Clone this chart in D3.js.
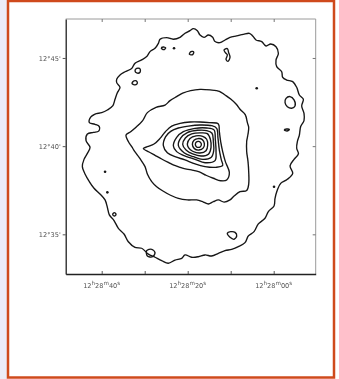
<!DOCTYPE html>
<html>
<head>
<meta charset="utf-8">
<script src="https://cdn.jsdelivr.net/npm/d3@7"></script>
<style>
  html, body { margin: 0; padding: 0; background: #ffffff; }
  svg { display: block; }
</style>
</head>
<body>
<svg id="chart" width="339" height="379"></svg>
<script>
// Isophote map of the galaxy: every contour is a closed ring of
// [RA seconds after 12h28m, Dec arcminutes after 12°] points.

const raTicks = [40, 30, 20, 10, 0];
const raLabels = { 40: "40", 20: "20", 0: "00" };
const decTicks = [35, 40, 45];
const decLabels = ["12°35'", "12°40'", "12°45'"];

// Outermost isophote
const isoOuter = [
  [36.51,43.79],[35.74,44.04],[34.57,44.22],[33.02,44.41],[32.25,44.70],[30.70,44.89],
  [29.53,45.08],[28.76,45.36],[27.60,45.55],[26.82,45.83],[26.43,46.06],[24.88,46.15],
  [23.33,46.06],[21.78,46.17],[20.62,46.40],[19.46,46.55],[18.68,46.66],[17.75,46.55],
  [17.13,46.30],[16.20,46.17],[15.19,46.30],[14.19,46.17],[13.64,45.93],[12.48,45.87],
  [11.32,46.02],[10.16,46.17],[8.60,46.25],[7.05,46.34],[5.66,46.40],[4.88,46.25],
  [4.11,46.02],[2.79,45.93],[1.78,45.68],[0.70,45.79],[-0.54,45.64],[-1.09,45.26],
  [-0.54,44.89],[-0.70,44.51],[-1.86,44.22],[-2.09,43.90],[-3.02,43.75],[-4.42,43.66],
  [-5.35,43.34],[-5.97,42.90],[-6.90,42.66],[-6.51,42.28],[-7.05,41.86],[-7.05,41.45],
  [-6.28,41.11],[-5.97,40.63],[-5.50,40.26],[-5.35,39.88],[-5.74,39.56],[-4.73,39.25],
  [-3.80,38.88],[-4.42,38.46],[-3.18,38.12],[-1.63,37.89],[-0.85,37.51],[-0.31,37.04],
  [-0.08,36.61],[1.24,36.29],[2.02,35.91],[3.57,35.59],[4.57,35.15],[5.89,34.91],
  [6.67,34.53],[8.22,34.30],[9.77,34.15],[11.32,34.07],[12.87,33.92],[14.42,33.77],
  [15.97,33.83],[17.52,33.73],[19.07,33.70],[20.62,33.83],[21.40,33.64],[22.95,33.54],
  [24.50,33.36],[26.05,33.51],[27.60,33.70],[29.15,33.88],[30.70,34.21],[32.25,34.26],
  [33.80,34.58],[34.81,35.02],[36.12,35.34],[37.13,35.78],[38.22,36.10],[38.68,36.53],
  [39.22,36.95],[40.39,37.29],[41.78,37.61],[42.87,37.99],[43.88,38.42],[44.50,38.84],
  [44.11,39.25],[43.33,39.59],[42.71,39.93],[43.64,40.31],[43.33,40.69],
  [41.94,40.78],[40.70,40.85],[40.55,41.11],[41.55,41.24],
  [42.87,41.33],[42.56,41.64],[41.55,41.82],[40.00,41.90],[38.68,42.05],[37.44,42.28],
  [36.90,42.66],[36.36,43.03],[35.74,43.34],[36.51,43.60]
];

// Second isophote
const isoSecond = [
  [34.34,40.63],[33.26,40.82],[32.02,41.07],[30.47,41.45],[29.38,41.90],[27.36,42.20],
  [25.27,42.33],[24.11,42.58],[22.56,42.81],[21.16,43.00],[19.30,43.15],[17.13,43.22],
  [14.81,43.19],[12.64,43.11],[11.32,42.90],[10.00,42.67],[8.76,42.39],[7.67,42.05],
  [6.59,41.77],[6.12,41.33],[5.81,41.07],[5.97,40.69],[6.28,40.26],[6.28,39.69],
  [5.97,39.12],[5.81,38.55],[5.81,37.85],[6.28,37.48],[7.83,37.42],[9.22,37.17],
  [10.16,36.95],[11.55,36.83],[12.87,36.95],[14.03,36.85],[15.19,36.72],[16.36,36.83],
  [17.91,36.95],[20.08,36.95],[22.17,37.04],[24.11,37.23],[25.66,37.44],[27.21,37.70],
  [28.37,37.99],[29.38,38.42],[29.92,38.84],[31.09,39.29],[32.25,39.67],[33.02,39.97],
  [33.80,40.26]
];

// Third isophote, with its tail to the east
const isoThird = [
  [30.31,39.86],[29.38,39.97],[27.83,40.12],[26.43,40.44],[25.19,40.82],[23.72,41.14],
  [21.78,41.29],[19.46,41.37],[17.13,41.37],[14.96,41.33],[12.87,41.26],[12.64,40.82],
  [12.33,40.26],[11.86,39.69],[11.24,39.12],[10.31,38.50],[10.93,38.08],[12.33,38.04],
  [14.03,38.18],[15.74,38.35],[17.29,38.54],[19.15,38.65],[21.01,38.74],[22.87,38.89],
  [24.50,39.08],[26.05,39.27],[27.60,39.48],[28.99,39.67]
];

// Nested inner isophotes, innermost first
const isoCore = [
  [[18.22,40.10],[17.98,40.24],[17.52,40.27],[17.05,40.22],[16.82,40.10],[17.05,39.97],[17.52,39.93],[17.98,39.97]],
  [[18.91,40.10],[18.53,40.33],[17.60,40.43],[16.59,40.37],[16.12,40.14],[16.36,39.90],[17.36,39.78],[18.45,39.86]],
  [[20.08,40.12],[19.46,40.44],[18.06,40.58],[16.51,40.56],[15.58,40.39],[15.35,40.05],[15.74,39.74],[17.13,39.61],[18.84,39.71],[19.77,39.90]],
  [[21.16,40.09],[20.54,40.46],[19.07,40.69],[17.13,40.75],[15.43,40.71],[14.73,40.39],[14.57,39.93],[15.12,39.56],[16.90,39.44],[18.84,39.56],[20.39,39.78]],
  [[22.17,40.05],[21.63,40.46],[20.08,40.77],[17.75,40.90],[15.58,40.88],[14.34,40.73],[14.03,40.26],[13.95,39.74],[14.50,39.37],[16.51,39.25],[18.68,39.40],[20.85,39.63]],
  [[23.33,40.01],[22.56,40.50],[21.01,40.82],[18.29,41.01],[15.58,41.03],[13.88,40.92],[13.57,40.35],[13.41,39.69],[13.64,39.18],[15.97,39.06],[18.29,39.25],[21.01,39.48],[22.56,39.69]],
  [[25.66,40.03],[25.12,40.54],[23.95,40.84],[22.17,41.03],[19.84,41.14],[17.13,41.20],[14.42,41.16],[13.26,41.01],[12.95,40.44],[12.64,39.78],[12.17,39.22],[11.86,38.91],[13.41,38.80],[15.97,38.84],[18.29,38.99],[20.62,39.22],[22.95,39.40],[24.73,39.63]]
];

// Small detached isophote islands
const islands = [
  [[26.12,45.55],[25.66,45.62],[25.12,45.57],[25.58,45.47]],
  [[19.61,45.21],[19.22,45.36],[18.60,45.34],[18.84,45.19]],
  [[11.55,45.45],[10.78,45.53],[10.47,45.30],[10.16,45.04],[10.62,44.81],[11.09,44.92],[10.78,45.17],[11.24,45.30]],
  [[32.25,44.26],[31.86,44.41],[31.09,44.38],[31.09,44.19],[31.86,44.15]],
  [[32.95,43.56],[32.48,43.70],[31.78,43.66],[31.86,43.51],[32.56,43.49]],
  [[-2.87,42.71],[-3.80,42.81],[-4.73,42.62],[-4.96,42.28],[-4.19,42.15],[-3.18,42.24],[-2.64,42.47]],
  [[-2.48,40.92],[-3.02,40.97],[-3.64,40.94],[-3.10,40.86]],
  [[37.44,36.13],[37.05,36.23],[36.67,36.13],[37.05,36.04]],
  [[10.78,35.06],[10.00,35.15],[8.99,35.11],[8.60,34.91],[9.22,34.72],[10.16,34.83]],
  [[29.53,34.07],[28.37,34.15],[27.60,33.96],[28.14,33.73],[29.38,33.77]]
];

// Star-like point sources
const points = [
  [23.18,45.55],[3.95,43.28],[39.22,38.55],[38.68,37.38],[-0.08,37.70]
];

const svg = d3.select("#chart");

// page frame
svg.append("rect").attr("x", 0).attr("y", 0).attr("width", 7).attr("height", 379).attr("fill", "#ececf8");
svg.append("rect")
  .attr("x", 8).attr("y", 1).attr("width", 326).attr("height", 376.5)
  .attr("fill", "none").attr("stroke", "#cf4a1c").attr("stroke-width", 2.5);

const x = d3.scaleLinear().domain([48.37, -9.77]).range([65.7, 315.7]);
const y = d3.scaleLinear().domain([32.75, 47.21]).range([274, 19]);

const ink = "#141414";
const defs = svg.append("defs");
defs.append("filter").attr("id", "soft")
  .append("feGaussianBlur").attr("stdDeviation", 0.35);
const plot = svg.append("g").attr("filter", "url(#soft)");

const line = d3.line()
  .x(d => x(d[0])).y(d => y(d[1]))
  .curve(d3.curveCatmullRomClosed.alpha(0.5));

const rings = [isoOuter, isoSecond, isoThird, ...isoCore, ...islands];
plot.selectAll("path.iso").data(rings).join("path")
  .attr("class", "iso")
  .attr("d", line)
  .attr("fill", "none")
  .attr("stroke", ink)
  .attr("stroke-width", 1.35)
  .attr("stroke-linejoin", "round");

plot.selectAll("circle.src").data(points).join("circle")
  .attr("class", "src")
  .attr("cx", d => x(d[0])).attr("cy", d => y(d[1]))
  .attr("r", 1.3).attr("fill", ink);

// frame: strong left/bottom, faint top/right
const [x0, x1] = x.range();
const [y0, y1] = y.range();
plot.append("line").attr("x1", x0).attr("x2", x1).attr("y1", y1).attr("y2", y1)
  .attr("stroke", "#9a9a9a").attr("stroke-width", 1);
plot.append("line").attr("x1", x1).attr("x2", x1).attr("y1", y1).attr("y2", y0)
  .attr("stroke", "#9a9a9a").attr("stroke-width", 1);

const axisStyle = g => {
  g.select(".domain").attr("stroke", "#222").attr("stroke-width", 1.3);
  g.selectAll(".tick line").attr("stroke", "#444").attr("stroke-width", 0.9);
  g.selectAll(".tick text").attr("fill", "#555").attr("font-family", "DejaVu Sans, sans-serif").attr("font-size", 6.6);
};

plot.append("g").attr("transform", `translate(${x0},0)`)
  .call(d3.axisLeft(y).tickValues(decTicks).tickSize(3).tickSizeOuter(0)
    .tickFormat((d, i) => decLabels[i]))
  .call(axisStyle)
  .call(g => g.selectAll(".tick text").attr("x", -5));

plot.append("g").attr("transform", `translate(0,${y0})`)
  .call(d3.axisBottom(x).tickValues(raTicks).tickSize(-3).tickSizeOuter(0).tickFormat(() => ""))
  .call(axisStyle);

// top and right inward ticks
plot.append("g").attr("transform", `translate(0,${y1})`)
  .call(d3.axisTop(x).tickValues(raTicks).tickSize(-3).tickSizeOuter(0).tickFormat(() => ""))
  .call(g => g.select(".domain").remove())
  .call(g => g.selectAll(".tick line").attr("stroke", "#777"));
plot.append("g").attr("transform", `translate(${x1},0)`)
  .call(d3.axisRight(y).tickValues(decTicks).tickSize(-3).tickSizeOuter(0).tickFormat(() => ""))
  .call(g => g.select(".domain").remove())
  .call(g => g.selectAll(".tick line").attr("stroke", "#777"));

// RA labels with raised unit letters
const raText = plot.append("g")
  .attr("font-family", "DejaVu Sans, sans-serif").attr("font-size", 6.6).attr("fill", "#555");
Object.keys(raLabels).forEach(k => {
  const t = raText.append("text")
    .attr("x", x(+k)).attr("y", y0 + 14).attr("text-anchor", "middle");
  t.append("tspan").text("12");
  t.append("tspan").attr("dy", -3).attr("font-size", 5.6).text("h");
  t.append("tspan").attr("dy", 3).text("28");
  t.append("tspan").attr("dy", -3).attr("font-size", 5.6).text("m");
  t.append("tspan").attr("dy", 3).text(raLabels[k]);
  t.append("tspan").attr("dy", -3).attr("font-size", 5.6).text("s");
});
</script>
</body>
</html>
